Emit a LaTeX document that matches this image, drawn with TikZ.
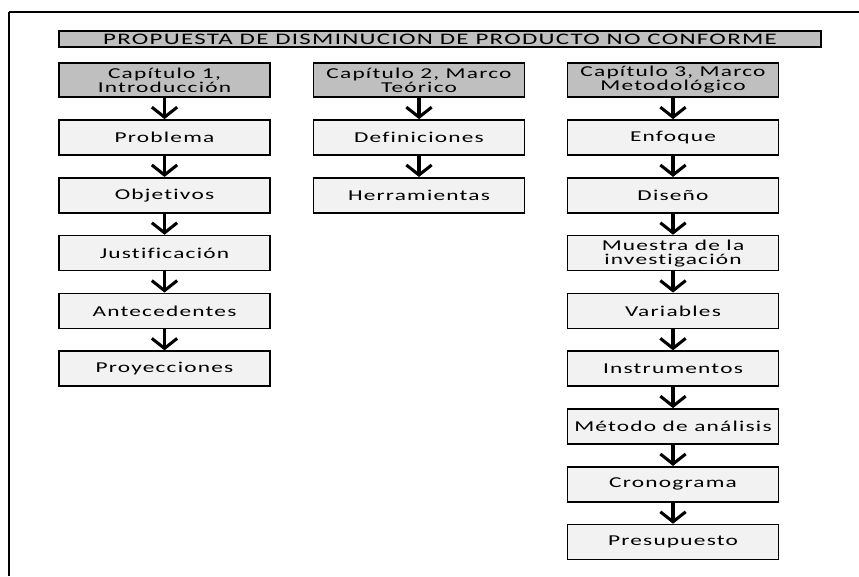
\documentclass[tikz,border=0pt]{standalone}
\usepackage{fontspec}
\setmainfont{Carlito}[FakeStretch=1.55, LetterSpace=8, Ligatures=NoCommon]
\usetikzlibrary{arrows.meta}
\definecolor{headgray}{HTML}{BFBFBF}
\definecolor{boxgray}{HTML}{F2F2F2}
\tikzset{
  base/.style={draw=black, line width=1.3pt, rectangle, inner sep=0pt, align=center,
    font=\fontsize{11.3}{10.5}\selectfont},
  titlebox/.style={base, fill=headgray, minimum width=571.5pt, minimum height=12pt,
    font=\fontsize{12.05}{12}\selectfont},
  headbox/.style={base, fill=headgray, minimum width=158.25pt, minimum height=25.5pt},
  stepbox/.style={base, fill=boxgray, minimum width=158.25pt, minimum height=26.25pt},
  arr/.style={line width=2.3pt, -{Straight Barb[length=7.5pt, width=19pt]}},
}
\begin{document}
\begin{tikzpicture}[x=0.75pt, y=-0.75pt]
\useasboundingbox (0,0) rectangle (859,576);
% outer frame
\draw[line width=0.8pt] (9,12) -- (859,12);
\draw[line width=1.6pt] (9,12) -- (9,576);

% title
\node[titlebox] (title) at (440,39) {PROPUESTA DE DISMINUCION DE PRODUCTO NO CONFORME};

% column 1
\node[headbox] (h1) at (164.5,80) {Capítulo 1,\\Introducción};
\node[stepbox] (a1) at (164.5,137.5) {Problema};
\node[stepbox] (a2) at (164.5,195.3) {Objetivos};
\node[stepbox] (a3) at (164.5,253.1) {Justificación};
\node[stepbox] (a4) at (164.5,310.9) {Antecedentes};
\node[stepbox] (a5) at (164.5,368.7) {Proyecciones};

% column 2
\node[headbox] (h2) at (419,80) {Capítulo 2, Marco\\Teórico};
\node[stepbox] (b1) at (419,137.5) {Definiciones};
\node[stepbox] (b2) at (419,195.3) {Herramientas};

% column 3
\node[headbox] (h3) at (673,80) {Capítulo 3, Marco\\Metodológico};
\node[stepbox] (c1) at (673,137.5) {Enfoque};
\node[stepbox] (c2) at (673,195.3) {Diseño};
\node[stepbox] (c3) at (673,253.1) {Muestra de la\\investigación};
\node[stepbox] (c4) at (673,310.9) {Variables};
\node[stepbox] (c5) at (673,368.7) {Instrumentos};
\node[stepbox] (c6) at (673,426.5) {Método de análisis};
\node[stepbox] (c7) at (673,484.3) {Cronograma};
\node[stepbox] (c8) at (673,542.1) {Presupuesto};

% connectors
\draw[arr] (h1.south) -- (a1.north);
\draw[arr] (a1.south) -- (a2.north);
\draw[arr] (a2.south) -- (a3.north);
\draw[arr] (a3.south) -- (a4.north);
\draw[arr] (a4.south) -- (a5.north);
\draw[arr] (h2.south) -- (b1.north);
\draw[arr] (b1.south) -- (b2.north);
\draw[arr] (h3.south) -- (c1.north);
\draw[arr] (c1.south) -- (c2.north);
\draw[arr] (c2.south) -- (c3.north);
\draw[arr] (c3.south) -- (c4.north);
\draw[arr] (c4.south) -- (c5.north);
\draw[arr] (c5.south) -- (c6.north);
\draw[arr] (c6.south) -- (c7.north);
\draw[arr] (c7.south) -- (c8.north);
\end{tikzpicture}
\end{document}
